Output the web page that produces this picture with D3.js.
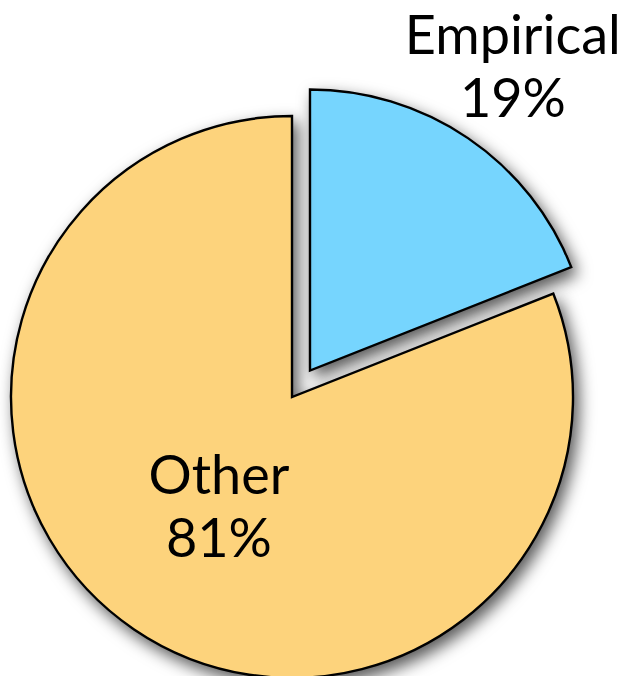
<!DOCTYPE html>
<html>
<head>
<meta charset="utf-8">
<script src="https://cdn.jsdelivr.net/npm/d3@7"></script>
<style>
  html, body { margin: 0; padding: 0; background: #fff; }
  svg { display: block; }
</style>
</head>
<body>
<svg id="chart" width="625" height="676"></svg>
<script>
// Share of studies by type
const categories = ["Empirical", "Other"];
const values = [19, 81];
const labels = ["19%", "81%"];
const colors = ["#76d5fe", "#fdd37b"];

const width = 625, height = 676;
const cx = 292, cy = 397, radius = 281;
const explode = [32, 0];          // offset of each slice along its bisector
const labelRadius = [368, 130];   // label distance from the slice's own centre
const labelShift = [[-4, -6], [0, -4]]; // small hand nudges for the labels

const svg = d3.select("#chart");

const defs = svg.append("defs");
const filt = defs.append("filter").attr("id", "shadow")
  .attr("x", "-20%").attr("y", "-20%").attr("width", "140%").attr("height", "140%");
filt.append("feDropShadow")
  .attr("dx", 5).attr("dy", 7).attr("stdDeviation", 8)
  .attr("flood-color", "#000").attr("flood-opacity", 0.65);

const pie = d3.pie().sort(null).value(d => d.value);
const arcs = pie(categories.map((c, i) => ({ cat: c, value: values[i], label: labels[i], color: colors[i], i })));
const arc = d3.arc().innerRadius(0).outerRadius(radius);

const g = svg.append("g").attr("transform", `translate(${cx},${cy})`);

function offset(d, r) {
  const a = (d.startAngle + d.endAngle) / 2;
  return [Math.sin(a) * r, -Math.cos(a) * r];
}

const slices = g.selectAll("g.slice").data(arcs).join("g")
  .attr("class", "slice")
  .attr("transform", d => { const [x, y] = offset(d, explode[d.data.i]); return `translate(${x},${y})`; });

slices.append("path")
  .attr("d", arc)
  .attr("fill", d => d.data.color)
  .attr("stroke", "#000")
  .attr("stroke-width", 2.4)
  .attr("stroke-linejoin", "miter")
  .attr("filter", "url(#shadow)");

const fontFamily = "Lato, 'Open Sans', sans-serif";
const text = slices.append("text")
  .attr("font-family", fontFamily)
  .attr("font-size", 54)
  .attr("fill", "#000")
  .attr("text-anchor", "middle")
  .attr("transform", d => {
    const [x, y] = offset(d, labelRadius[d.data.i]);
    const [sx, sy] = labelShift[d.data.i];
    return `translate(${x + sx},${y + sy})`;
  });

text.append("tspan").attr("x", 0).attr("dy", "-0.12em").text(d => d.data.cat);
text.append("tspan").attr("x", 0).attr("dy", "1.17em").text(d => d.data.label);
</script>
</body>
</html>
